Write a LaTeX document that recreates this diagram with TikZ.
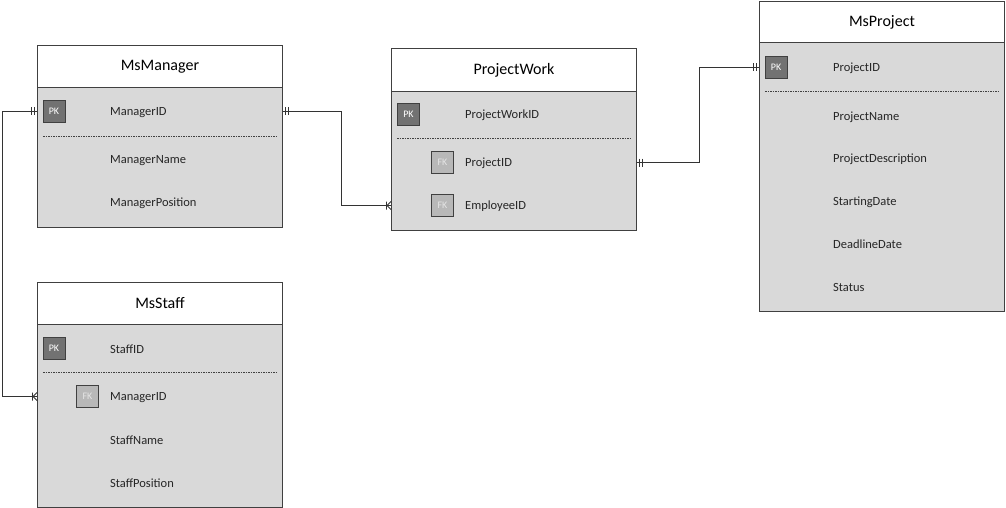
\documentclass[tikz,border=0pt]{standalone}
\usepackage{fontspec}
\setmainfont{Carlito}
\begin{document}
\begin{tikzpicture}[x=1pt,y=-1pt,
  hdr/.style={draw=boxline,fill=white,line width=0.9pt,minimum width=245pt,minimum height=42pt,anchor=north west,inner sep=0pt,font=\fontsize{16}{19}\selectfont},
  bodybox/.style={draw=boxline,fill=bodygray,line width=0.9pt,minimum width=245pt,anchor=north west,inner sep=0pt},
  attr/.style={anchor=west,inner sep=0pt,yshift=-1pt,font=\fontsize{12.5}{15}\selectfont,text=black!85},
  pkbox/.style={draw=boxline,fill=pkgray,line width=0.8pt,minimum size=22pt,inner sep=0pt,text=white,font=\fontsize{10}{12}\selectfont},
  fkbox/.style={draw=boxline,fill=fkgray,line width=0.8pt,minimum size=22pt,inner sep=0pt,text=black!10,font=\fontsize{10}{12}\selectfont},
  sep/.style={draw=black!75,line width=0.7pt,dash pattern=on 1.5pt off 1pt},
  conn/.style={draw=black!80,line width=0.9pt},
  onemark/.pic={\draw[conn] (2.5,-4)--(2.5,4) (5.5,-4)--(5.5,4);},
  manymark/.pic={\draw[conn] (4.5,-4)--(4.5,4) (4,0)--(0,-4) (4,0)--(0,4);}
]
\definecolor{boxline}{HTML}{404040}
\definecolor{bodygray}{HTML}{D9D9D9}
\definecolor{pkgray}{HTML}{727272}
\definecolor{fkgray}{HTML}{B8B8B8}
\useasboundingbox (0,0) rectangle (1006,508);

% MsManager
\node[bodybox,minimum height=140pt] (mgrB) at (37,87) {};
\node[hdr] (mgrH) at (37,45) {MsManager};
\node[pkbox] (mgrPK) at (54,111.5) {PK};
\node[attr] (mgrID) at (110,111.5) {ManagerID};
\draw[sep] (43,136) -- (276,136);
\node[attr] (mgrName) at (110,159.5) {ManagerName};
\node[attr] (mgrPos) at (110,202.5) {ManagerPosition};

% MsStaff
\node[bodybox,minimum height=184pt] (stB) at (37,323) {};
\node[hdr] (stH) at (37,282) {MsStaff};
\node[pkbox] (stPK) at (54,348.5) {PK};
\node[attr] (stID) at (110,348.5) {StaffID};
\draw[sep] (43,372) -- (276,372);
\node[fkbox] (stFK) at (87.5,396.5) {FK};
\node[attr] (stMgr) at (110,396.5) {ManagerID};
\node[attr] (stName) at (110,439.5) {StaffName};
\node[attr] (stPos) at (110,482.5) {StaffPosition};

% ProjectWork
\node[bodybox,minimum height=139pt] (pwB) at (391,91) {};
\node[hdr,minimum height=43pt] (pwH) at (391,48) {ProjectWork};
\node[pkbox] (pwPK) at (408.5,114.5) {PK};
\node[attr] (pwID) at (465,114.5) {ProjectWorkID};
\draw[sep] (397,138) -- (630,138);
\node[fkbox] (pwFK1) at (442.5,162.5) {FK};
\node[attr] (pwProj) at (465,162.5) {ProjectID};
\node[fkbox] (pwFK2) at (442.5,205.5) {FK};
\node[attr] (pwEmp) at (465,205.5) {EmployeeID};

% MsProject
\node[bodybox,minimum height=269pt] (prjB) at (759,42) {};
\node[hdr,minimum height=41pt] (prjH) at (759,1) {MsProject};
\node[pkbox] (prjPK) at (776,67.5) {PK};
\node[attr] (prjID) at (833,67.5) {ProjectID};
\draw[sep] (765,91) -- (998,91);
\node[attr] (prjName) at (833,116) {ProjectName};
\node[attr] (prjDesc) at (833,158.5) {ProjectDescription};
\node[attr] (prjStart) at (833,201) {StartingDate};
\node[attr] (prjDead) at (833,243.5) {DeadlineDate};
\node[attr] (prjStat) at (833,286.5) {Status};

% connectors
\coordinate (c1a) at (mgrB.east |- mgrPK);
\coordinate (c1b) at (pwB.west |- pwFK2);
\draw[conn] (c1a) -- ++(59,0) |- (c1b);
\pic at (c1a) {onemark};
\pic[xscale=-1] at (c1b) {manymark};

\coordinate (c2a) at (pwB.east |- pwFK1);
\coordinate (c2b) at (prjB.west |- prjPK);
\draw[conn] (c2a) -- ++(63,0) |- (c2b);
\pic at (c2a) {onemark};
\pic[xscale=-1] at (c2b) {onemark};

\coordinate (c3a) at (mgrB.west |- mgrPK);
\coordinate (c3b) at (stB.west |- stFK);
\draw[conn] (c3a) -- ++(-35,0) |- (c3b);
\pic[xscale=-1] at (c3a) {onemark};
\pic[xscale=-1] at (c3b) {manymark};
\end{tikzpicture}
\end{document}
